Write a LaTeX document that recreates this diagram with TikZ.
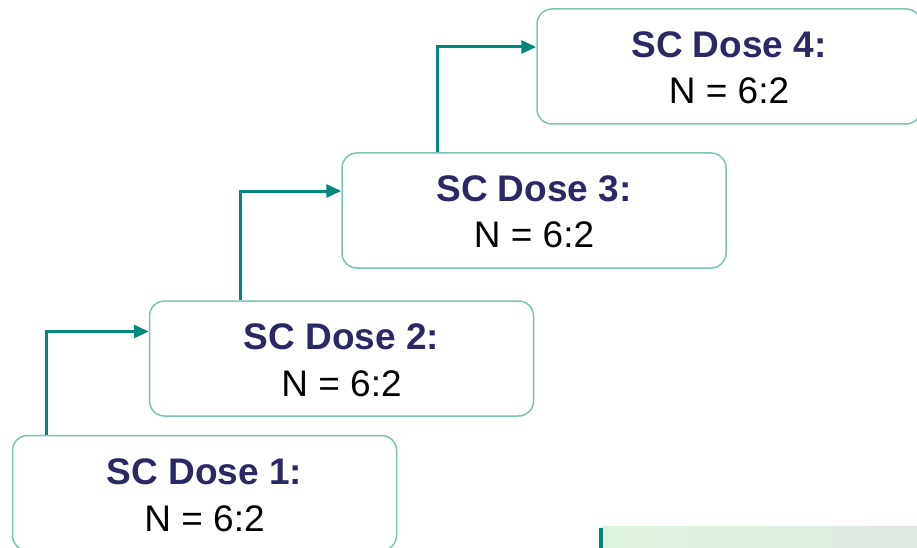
\documentclass[tikz,border=0pt]{standalone}
\usepackage{fontspec}
\setmainfont{Liberation Sans}
\usetikzlibrary{arrows.meta}
\definecolor{navy}{HTML}{2A2966}
\definecolor{teal1}{HTML}{00897B}
\definecolor{tealb}{HTML}{7CC3B6}
\definecolor{barA}{HTML}{DDF2DE}
\definecolor{barB}{HTML}{E0E9E1}
\tikzset{
  dosebox/.style={draw=tealb, line width=1.5pt, rounded corners=15pt, minimum width=384pt, minimum height=115pt, inner sep=0pt},
  headtxt/.style={anchor=base, inner sep=0pt, text=navy, font=\fontsize{37}{44}\selectfont\bfseries},
  ntxt/.style={anchor=base, inner sep=0pt, text=black, font=\fontsize{37}{44}\selectfont},
  conn/.style={draw=teal1, line width=3pt, -{Triangle[length=15pt,width=13pt]}}
}
\begin{document}
\begin{tikzpicture}[x=1pt,y=-1pt]
\useasboundingbox (0,0) rectangle (917,548);
\begin{scope}
\clip (0,0) rectangle (917,548);
% bottom-right bar
\shade[left color=barA, right color=barB] (601,526) rectangle (917,548);
\fill[teal1] (599,528) rectangle (603,548);
% boxes
\node[dosebox] (b1) at (204.5,493) {};
\node[dosebox] (b2) at (341.5,358.5) {};
\node[dosebox] (b3) at (534,210.5) {};
\node[dosebox] (b4) at (729,66.5) {};
\end{scope}
% texts
\node[headtxt] (h1) at ([yshift=-50pt]b1.north) {SC Dose 1:};
\node[ntxt] (n1) at ([yshift=-97pt]b1.north) {N = 6:2};
\node[headtxt] (h2) at ([yshift=-49pt]b2.north) {SC Dose 2:};
\node[ntxt] (n2) at ([yshift=-96pt]b2.north) {N = 6:2};
\node[headtxt] (h3) at ([yshift=-49pt]b3.north) {SC Dose 3:};
\node[ntxt] (n3) at ([yshift=-95pt]b3.north) {N = 6:2};
\node[headtxt] (h4) at ([yshift=-49pt]b4.north) {SC Dose 4:};
\node[ntxt] (n4) at ([yshift=-95pt]b4.north) {N = 6:2};
% connectors
\draw[conn] ([xshift=-158.5pt]b1.north) |- ([yshift=27pt]b2.west);
\draw[conn] ([xshift=-101.5pt]b2.north) |- ([yshift=19.5pt]b3.west);
\draw[conn] ([xshift=-97pt]b3.north) |- ([yshift=19.5pt]b4.west);
\end{tikzpicture}
\end{document}
